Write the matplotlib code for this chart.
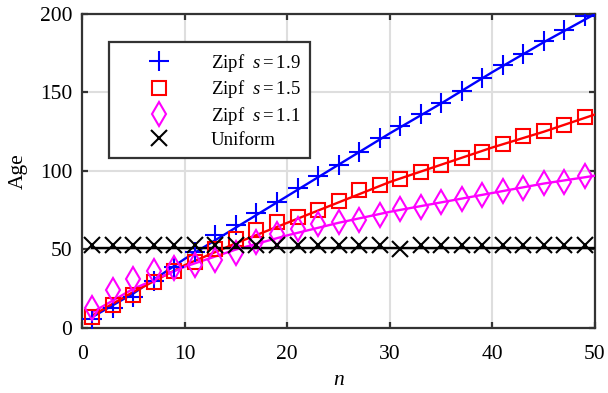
import numpy as np
import matplotlib
matplotlib.use("Agg")
import matplotlib.pyplot as plt
from matplotlib.lines import Line2D

plt.rcParams['font.family'] = ['Liberation Serif', 'DejaVu Serif']
plt.rcParams['mathtext.fontset'] = 'custom'
plt.rcParams['mathtext.rm'] = 'Liberation Serif'
plt.rcParams['mathtext.it'] = 'Liberation Serif:italic'

# ---- data ----
n_sim = list(range(1, 50, 2))
zipf19_sim = [6, 12.5, 20, 30, 39, 48.5, 59, 65.5, 73, 80.5, 89, 96.5, 104, 112, 121,
              128.5, 136, 143.5, 151, 159, 167.5, 174.5, 183, 190, 199]
zipf15_sim = [7, 14.5, 21, 29.5, 36, 42, 50, 57, 62.5, 67.5, 71, 75, 81, 88, 91,
              95, 99.5, 103.5, 108.5, 112.3, 117.5, 122, 125.5, 129.3, 134.5]
zipf11_sim = [12.5, 24, 31, 36, 38, 40, 43, 47.5, 55, 60, 63, 66, 67.5, 69, 72,
              76, 77, 80.5, 82, 84.7, 87.5, 89, 92.5, 93, 96.5]
uniform_sim = [53, 53, 53, 53, 53, 53, 53, 53, 53, 53, 53, 53, 53, 53, 53,
               50.5, 53, 53, 53, 53, 53, 53, 53, 53, 53]

n_th = [1, 5, 10, 15, 20, 25, 30, 35, 40, 45, 50]
zipf19_th = [7, 22, 44, 64, 84, 104, 124, 143, 163, 182, 200]
zipf15_th = [8, 23, 40, 54, 67, 80, 93, 104, 115, 125, 136]
zipf11_th = [10, 25, 39, 50, 59, 67, 74, 80, 86, 92, 97]
uniform_th = [51, 51, 51, 51, 51, 51, 51, 51, 51, 51, 51]

labels = [r'Zipf  $\mathit{s{=}1.9}$', r'Zipf  $\mathit{s{=}1.5}$',
          r'Zipf  $\mathit{s{=}1.1}$', 'Uniform']
colors = ['#0000ff', '#ff0000', '#ff00ff', '#000000']

fig = plt.figure(figsize=(6.08, 3.93), dpi=100)
ax = fig.add_axes([0.135, 0.1654, 0.8436, 0.799])

lw = 1.7
mew = 1.5
specs = [
    (zipf19_sim, zipf19_th, '+', 15, colors[0]),
    (zipf15_sim, zipf15_th, 's', 9.5, colors[1]),
    (zipf11_sim, zipf11_th, 'd', 12.5, colors[2]),
    (uniform_sim, uniform_th, 'x', 11, colors[3]),
]
for sim, th, mk, ms, c in specs:
    ax.plot(n_th, th, '-', color=c, lw=lw, zorder=3)
    ax.plot(n_sim, sim, linestyle='none', marker=mk, ms=ms, mew=mew,
            mec=c, mfc='none', zorder=4)

ax.set_xlim(0, 50)
ax.set_ylim(0, 200)
ax.set_xticks([0, 10, 20, 30, 40, 50])
ax.set_yticks([0, 50, 100, 150, 200])
ax.grid(True, color='#dedede', lw=1.5)
ax.set_axisbelow(True)
for s in ax.spines.values():
    s.set_color('#333333')
    s.set_linewidth(1.6)
ax.tick_params(direction='in', top=True, right=True, length=4, width=1.6,
               color='#333333', labelsize=15.5)
ax.tick_params(axis='x', pad=12)
ax.tick_params(axis='y', pad=7)
ax.set_xlabel(r'$n$', fontsize=15.5, labelpad=5)
ax.set_ylabel('Age', fontsize=15.5, labelpad=8.5)

handles = [Line2D([], [], linestyle='none', marker=mk, ms=ms, mew=mew,
                  mec=c, mfc='none') for (_, _, mk, ms, c) in specs]
leg = ax.legend(handles, labels, loc='upper left', bbox_to_anchor=(0.035, 0.94),
                fontsize=13.5, frameon=True, fancybox=False, edgecolor='#333333',
                handlelength=4.3, handletextpad=0.6, borderpad=0.5,
                labelspacing=0.25, framealpha=1)
leg.get_frame().set_linewidth(1.6)

fig.savefig('out.png', dpi=100)
